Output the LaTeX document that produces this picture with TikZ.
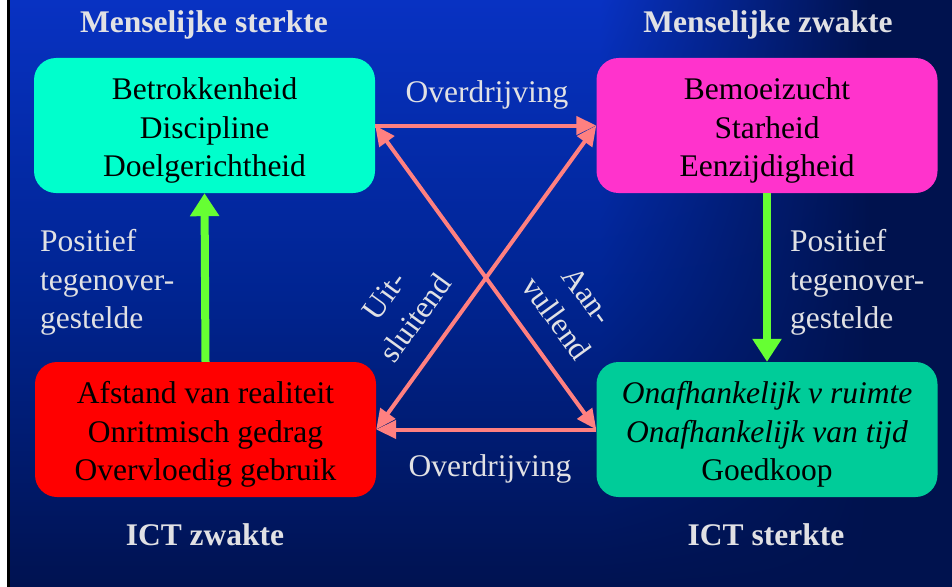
\documentclass[tikz,border=0pt]{standalone}
\usepackage{fontspec}
\setmainfont{Liberation Serif}
\usetikzlibrary{arrows.meta,shadings}
\definecolor{bgtop}{RGB}{8,50,195}
\definecolor{bgmid}{RGB}{0,36,145}
\definecolor{bgbot}{RGB}{0,18,80}
\definecolor{bgdark}{RGB}{0,18,78}
\definecolor{lblc}{RGB}{225,225,228}
\definecolor{cyanbox}{RGB}{0,255,204}
\definecolor{magbox}{RGB}{255,51,204}
\definecolor{redbox}{RGB}{255,0,0}
\definecolor{greenbox}{RGB}{0,204,153}
\definecolor{salmon}{RGB}{255,128,128}
\definecolor{lime}{RGB}{102,255,51}
\newcommand{\topstrut}{\rule{0pt}{32pt}}
\begin{document}
\begin{tikzpicture}[x=1pt,y=-1pt,
  box/.style={rounded corners=22pt, minimum width=341pt, minimum height=135pt, inner sep=0pt, align=center, font=\fontsize{31.5}{38.5}\selectfont, text=black},
  lbl/.style={text=lblc, font=\fontsize{31.5}{38.5}\selectfont, inner sep=0pt},
  hd/.style={text=lblc, font=\fontsize{31.5}{38.5}\selectfont\bfseries, inner sep=0pt},
  pinkarrow/.style={draw=salmon, line width=4pt, -{Triangle[length=20pt,width=18pt]}},
  pinkdbl/.style={draw=salmon, line width=4pt, {Triangle[length=20pt,width=18pt]}-{Triangle[length=20pt,width=18pt]}},
  greenarrow/.style={draw=lime, line width=8pt, -{Triangle[length=23pt,width=28pt]}}
]
\useasboundingbox (0,0) rectangle (952,586);
% background
\fill[white] (-3,-3) rectangle (955,590);
\fill[black] (7,-3) rectangle (10,590);
\shade[top color=bgtop, bottom color=bgbot, middle color=bgmid] (10,-3) rectangle (600.5,590);
\shade[upper left=bgtop, upper right=bgdark, lower left=bgmid, lower right=bgdark] (600,-3) rectangle (870.5,293.5);
\shade[upper left=bgmid, upper right=bgdark, lower left=bgbot, lower right=bgdark] (600,293) rectangle (870.5,590);
\fill[bgdark] (870,-3) rectangle (955,590);

% headings
\node[hd] (h1) at (204,25) {Menselijke sterkte};
\node[hd] (h2) at (768,25) {Menselijke zwakte};
\node[hd] (h3) at (205,535) {ICT zwakte};
\node[hd] (h4) at (766,535) {ICT sterkte};

% boxes
\node[box, fill=cyanbox] (tl) at (204.5,125.5) {\topstrut Betrokkenheid\\Discipline\\Doelgerichtheid};
\node[box, fill=magbox] (tr) at (767,125.5) {\topstrut Bemoeizucht\\Starheid\\Eenzijdigheid};
\node[box, fill=redbox] (bl) at (205.5,429.5) {\topstrut Afstand van realiteit\\Onritmisch gedrag\\Overvloedig gebruik};
\node[box, fill=greenbox] (br) at (767,429.5) {\topstrut\textit{Onafhankelijk v ruimte}\\\textit{Onafhankelijk van tijd}\\Goedkoop};

% labels
\node[lbl, align=left, anchor=west] (p1) at (40,282.5) {Positief\\tegenover-\\gestelde};
\node[lbl, align=left, anchor=west] (p2) at (790,282.5) {Positief\\tegenover-\\gestelde};
\node[lbl] (o1) at (487,95) {Overdrijving};
\node[lbl] (o2) at (490,469) {Overdrijving};
\node[lbl, align=center, rotate=54] (u) at (400,307) {Uit-\\sluitend};
\node[lbl, align=center, rotate=-54] (a) at (572,307) {Aan-\\vullend};

% connectors
\draw[pinkarrow] (tl.east) -- (tr.west);
\draw[pinkarrow] (br.west) -- (bl.east);
\draw[pinkdbl] (tl.east) -- (br.west);
\draw[pinkdbl] (tr.west) -- (bl.east);
\draw[greenarrow] (bl.north) -- (tl.south);
\draw[greenarrow] (tr.south) -- (br.north);
\end{tikzpicture}
\end{document}
